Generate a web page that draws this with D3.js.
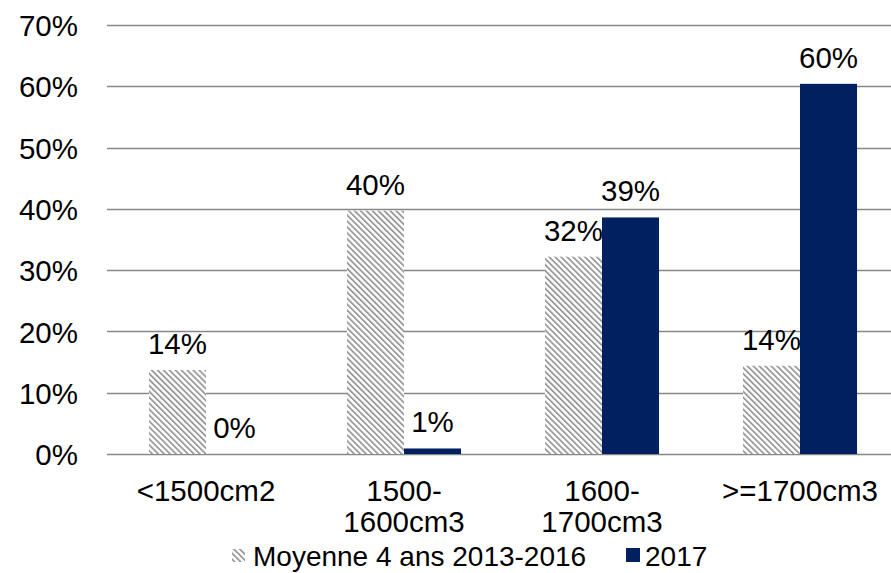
<!DOCTYPE html>
<html>
<head>
<meta charset="utf-8">
<script src="https://cdn.jsdelivr.net/npm/d3@7"></script>
<style>
  html, body { margin: 0; padding: 0; background: #fff; }
  svg { display: block; font-family: "Liberation Sans", Arial, sans-serif; }
</style>
</head>
<body>
<svg id="chart" width="891" height="573"></svg>
<script>
// Engine size classes (each entry is the lines of its axis label)
const categories = [["<1500cm2"], ["1500-", "1600cm3"], ["1600-", "1700cm3"], [">=1700cm3"]];
const seriesNames = ["Moyenne 4 ans 2013-2016", "2017"];
const moyenne = [0.137, 0.397, 0.322, 0.144];
const values2017 = [0.0, 0.009, 0.386, 0.604];
const yTicks = [0, 0.1, 0.2, 0.3, 0.4, 0.5, 0.6, 0.7];

const W = 891;
const plotLeft = 107, plotRight = 899, plotTop = 25, plotBottom = 454;
const navy = "#00205f";
const gridColor = "#878787";
const fontSize = 29.5;
const legendFont = 28;

const svg = d3.select("#chart");
const defs = svg.append("defs");

// Diagonal hatch fill for the 4-year average series
const hatch = defs.append("pattern")
  .attr("id", "hatch")
  .attr("patternUnits", "userSpaceOnUse")
  .attr("width", 4.2).attr("height", 4.2)
  .attr("patternTransform", "rotate(-45)");
hatch.append("rect").attr("width", 4.2).attr("height", 4.2).attr("fill", "#ffffff");
hatch.append("rect").attr("x", 0).attr("width", 1.8).attr("height", 4.2).attr("fill", "#9a9a9a");

const catKeys = categories.map(c => c.join(" "));
const x = d3.scaleBand().domain(catKeys).range([plotLeft, plotRight]).padding(0);
const y = d3.scaleLinear().domain([0, 0.7]).range([plotBottom, plotTop]);

const fmt = d3.format(".0%");

// Gridlines
svg.append("g")
  .selectAll("line")
  .data(yTicks)
  .join("line")
  .attr("x1", plotLeft).attr("x2", W)
  .attr("y1", d => Math.round(y(d)) + 0.5).attr("y2", d => Math.round(y(d)) + 0.5)
  .attr("stroke", gridColor).attr("stroke-width", 1.3);

// Y-axis tick labels
const yAxis = d3.axisLeft(y).tickValues(yTicks).tickFormat(fmt).tickSize(0).tickPadding(0);
const yg = svg.append("g").attr("transform", "translate(78,0)").call(yAxis);
yg.select(".domain").remove();
yg.selectAll("text")
  .attr("font-size", fontSize)
  .attr("font-family", "Liberation Sans, Arial, sans-serif")
  .attr("fill", "#000")
  .attr("dy", "0.36em");

// Bars
const bw = x.bandwidth();
const barW = bw * 0.288;
const gap = bw - 2 * barW;
const series = [
  { name: seriesNames[0], values: moyenne, fill: "url(#hatch)" },
  { name: seriesNames[1], values: values2017, fill: navy }
];

series.forEach((s, si) => {
  const g = svg.append("g");
  g.selectAll("rect")
    .data(s.values)
    .join("rect")
    .attr("x", (d, i) => x(catKeys[i]) + gap / 2 + si * barW)
    .attr("y", d => y(d))
    .attr("width", barW)
    .attr("height", d => y(0) - y(d))
    .attr("fill", s.fill);
  g.selectAll("text")
    .data(s.values)
    .join("text")
    .attr("x", (d, i) => x(catKeys[i]) + gap / 2 + si * barW + barW / 2)
    .attr("y", d => y(d) - 16)
    .attr("text-anchor", "middle")
    .attr("font-size", fontSize)
    .attr("fill", "#000")
    .text(d => fmt(d));
});

// Category labels
const xg = svg.append("g");
categories.forEach((lines, i) => {
  const cx = x(catKeys[i]) + bw / 2;
  const t = xg.append("text")
    .attr("x", cx)
    .attr("y", 501)
    .attr("text-anchor", "middle")
    .attr("font-size", fontSize)
    .attr("fill", "#000");
  lines.forEach((ln, j) => {
    t.append("tspan").attr("x", cx).attr("dy", j === 0 ? 0 : 31).text(ln);
  });
});

// Legend
const legend = svg.append("g").attr("transform", "translate(0,566)");
legend.append("rect").attr("x", 232).attr("y", -17).attr("width", 13).attr("height", 13).attr("fill", "url(#hatch)");
legend.append("text").attr("x", 253).attr("y", 0).attr("font-size", legendFont).attr("fill", "#000").text(seriesNames[0]);
legend.append("rect").attr("x", 626).attr("y", -18).attr("width", 14).attr("height", 14).attr("fill", navy);
legend.append("text").attr("x", 645).attr("y", 0).attr("font-size", legendFont).attr("fill", "#000").text(seriesNames[1]);
</script>
</body>
</html>
